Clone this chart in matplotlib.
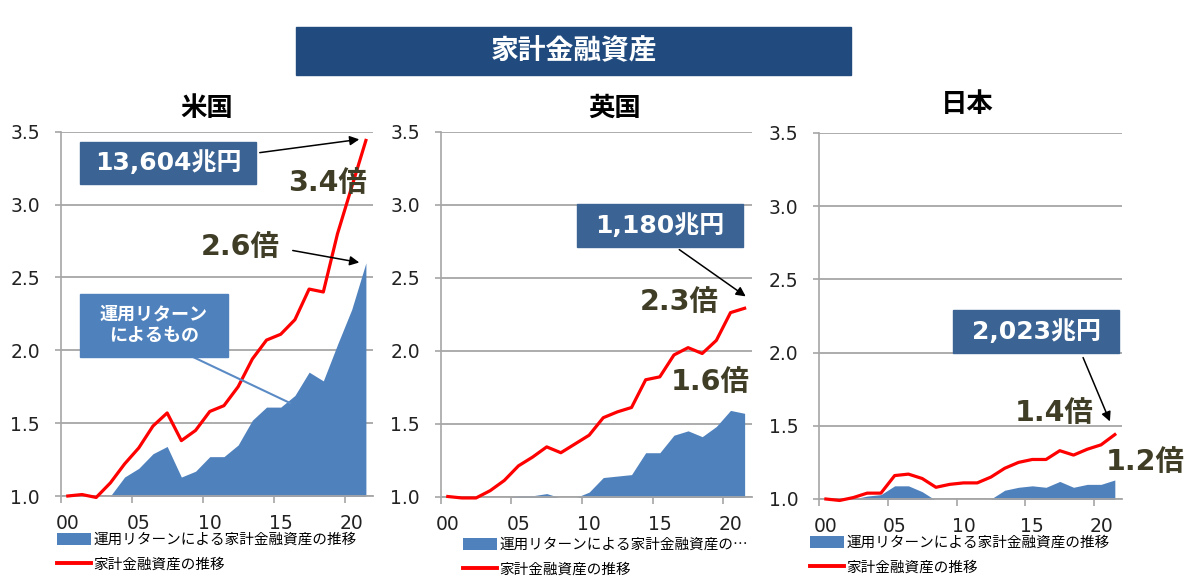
import numpy as np
import matplotlib
matplotlib.use('Agg')
import matplotlib.pyplot as plt
from matplotlib.patches import Rectangle, FancyArrowPatch
from matplotlib.lines import Line2D

plt.rcParams['font.family'] = ['DejaVu Sans', 'Noto Sans CJK JP']

# Data (2000 = 1.0)
years = np.arange(22)
tick_pos = [0, 5, 10, 15, 20]
tick_labels = ['00', '05', '10', '15', '20']

us_total = [1.00, 1.01, 0.99, 1.09, 1.22, 1.33, 1.48, 1.57, 1.38, 1.45, 1.58,
            1.62, 1.75, 1.94, 2.07, 2.11, 2.21, 2.42, 2.40, 2.80, 3.12, 3.44]
us_return = [0.98, 0.97, 0.96, 1.00, 1.13, 1.19, 1.29, 1.34, 1.13, 1.17, 1.27,
             1.27, 1.35, 1.52, 1.61, 1.61, 1.69, 1.85, 1.79, 2.04, 2.28, 2.60]
uk_total = [1.00, 0.99, 0.99, 1.04, 1.11, 1.21, 1.27, 1.34, 1.30, 1.36, 1.42,
            1.54, 1.58, 1.61, 1.80, 1.82, 1.97, 2.02, 1.98, 2.07, 2.26, 2.29]
uk_return = [0.99, 0.99, 0.99, 0.99, 0.99, 1.005, 1.005, 1.02, 0.99, 0.99, 1.03,
             1.13, 1.14, 1.15, 1.30, 1.30, 1.42, 1.45, 1.41, 1.48, 1.59, 1.57]
jp_total = [1.00, 0.99, 1.01, 1.04, 1.04, 1.16, 1.17, 1.14, 1.08, 1.10, 1.11,
            1.11, 1.15, 1.21, 1.25, 1.27, 1.27, 1.33, 1.30, 1.34, 1.37, 1.44]
jp_return = [1.00, 0.99, 1.00, 1.02, 1.03, 1.09, 1.09, 1.05, 0.99, 0.98, 0.98,
             0.98, 1.00, 1.06, 1.08, 1.09, 1.08, 1.12, 1.08, 1.10, 1.10, 1.13]

countries = ['米国', '英国', '日本']
totals = [us_total, uk_total, jp_total]
returns = [us_return, uk_return, jp_return]
legend_return = ['運用リターンによる家計金融資産の推移',
                 '運用リターンによる家計金融資産の…',
                 '運用リターンによる家計金融資産の推移']
legend_total = '家計金融資産の推移'

W, H = 1200, 576
fig = plt.figure(figsize=(12, 5.76), dpi=100)


def fx(px):
    return px / W


def fy(py):
    return 1 - py / H


# axes boxes in pixels: left, top, right, bottom
boxes = [(60.7, 131.7, 373, 496), (440.7, 131.7, 751.7, 496.5), (819, 133, 1121.7, 499)]
legend_pos = [(57, 533), (463, 538), (810, 536)]
title_pos = [(207, 109), (615, 108), (967, 104)]

grid_c = '#A6A6A6'
blue = '#4F81BD'
red = '#FF0000'

for i in range(3):
    l, t, r, b = boxes[i]
    ax = fig.add_axes([fx(l), fy(b), (r - l) / W, (b - t) / H])
    ax.fill_between(years, 0, returns[i], color=blue, linewidth=0,
                    label=legend_return[i])
    ax.plot(years, totals[i], color=red, lw=2.3, label=legend_total,
            clip_on=False, zorder=3)
    ax.set_xlim(-0.5, 21.5)
    ax.set_ylim(1.0, 3.5)
    ax.set_yticks([1.0, 1.5, 2.0, 2.5, 3.0, 3.5])
    ax.set_yticklabels(['1.0', '1.5', '2.0', '2.5', '3.0', '3.5'])
    ax.set_xticks(tick_pos)
    ax.set_xticklabels(tick_labels)
    ax.set_xticks([-0.5, 4.5, 9.5, 14.5, 19.5], minor=True)
    ax.tick_params(axis='x', which='major', length=0, labelsize=13.5,
                   pad=13, labelcolor='#222222')
    ax.tick_params(axis='x', which='minor', length=5, color=grid_c, width=1.2)
    ax.tick_params(axis='y', length=4, color=grid_c, width=1.2,
                   labelsize=13.5, pad=11, labelcolor='#222222')
    ax.yaxis.grid(True, color=grid_c, lw=1.3)
    ax.set_axisbelow(True)
    for s in ['top', 'right']:
        ax.spines[s].set_visible(False)
    ax.spines['left'].set_color(grid_c)
    ax.spines['left'].set_linewidth(1.2)
    ax.spines['bottom'].set_color(grid_c)
    ax.spines['bottom'].set_linewidth(1.3)
    lx, ly = legend_pos[i]
    leg = ax.legend(loc='upper left', bbox_to_anchor=(fx(lx), fy(ly)),
                    bbox_transform=fig.transFigure, frameon=False,
                    prop={'family': ['Noto Sans CJK JP'], 'size': 10.5},
                    handlelength=2.3, handleheight=0.85, handletextpad=0.2,
                    labelspacing=0.7, borderaxespad=0, borderpad=0)
    leg.get_lines()[0].set_linewidth(2.8)
    tx, ty = title_pos[i]
    fig.text(fx(tx), fy(ty), countries[i], ha='center', va='center',
             fontsize=19, fontweight='bold', family=['Noto Sans CJK JP'])


def box(x0, y0, x1, y1, color, text, size, tcolor='white'):
    fig.add_artist(Rectangle((fx(x0), fy(y1)), (x1 - x0) / W, (y1 - y0) / H,
                             transform=fig.transFigure, color=color, zorder=5))
    fig.text(fx((x0 + x1) / 2), fy((y0 + y1) / 2), text, ha='center',
             va='center', color=tcolor, fontsize=size, fontweight='bold',
             zorder=6, linespacing=1.25)


def arrow(x0, y0, x1, y1):
    fig.add_artist(FancyArrowPatch(
        (fx(x0), fy(y0)), (fx(x1), fy(y1)), transform=fig.transFigure,
        arrowstyle='-|>', mutation_scale=14, color='black', lw=1.1, zorder=7))


def mult(x, y, text):
    fig.text(fx(x), fy(y), text, ha='center', va='center', color='#3F3D26',
             fontsize=20.5, fontweight='bold', zorder=6)


# title
box(296, 27, 851, 75, '#214B7E', '家計金融資産', 20)

val_c = '#3B6494'
# US
box(80, 142, 256, 184, val_c, '13,604兆円', 18)
arrow(257, 153, 362, 139)
mult(327, 183, '3.4倍')
mult(240, 247, '2.6倍')
arrow(290, 250, 362, 263)
box(80, 294, 228, 357, blue, '運用リターン\nによるもの', 13)
fig.add_artist(Line2D([fx(193), fx(290)], [fy(357), fy(403)],
                      transform=fig.transFigure, color='#5B8BC5', lw=1.5,
                      zorder=4))
# UK
box(577, 204, 743, 247, val_c, '1,180兆円', 18)
arrow(677, 248, 748, 298)
mult(679, 302, '2.3倍')
mult(710, 382, '1.6倍')
# Japan
box(953, 310, 1119, 353, val_c, '2,023兆円', 18)
arrow(1082, 355, 1111, 424)
mult(1054, 413, '1.4倍')
mult(1145, 462, '1.2倍')

fig.savefig('out.png', dpi=100)
